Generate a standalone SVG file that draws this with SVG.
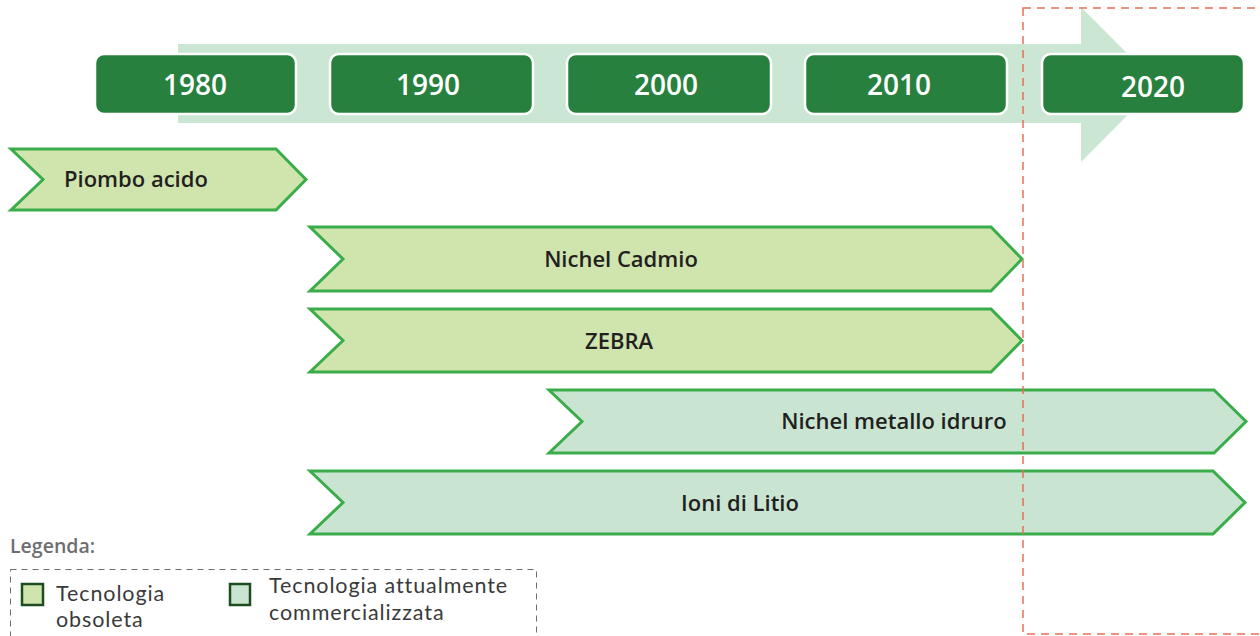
<svg xmlns="http://www.w3.org/2000/svg" width="1260" height="636" viewBox="0 0 1260 636">
<style>
.yr{fill:#28803e;stroke:#ffffff;stroke-width:2.5}
.yt{font-family:"Open Sans",Lato,sans-serif;font-weight:600;font-size:28px;fill:#ffffff;text-anchor:middle}
.obs{fill:#d0e4ae;stroke:#3aad4a;stroke-width:3;stroke-linejoin:miter}
.cur{fill:#c9e5d2;stroke:#3aad4a;stroke-width:3;stroke-linejoin:miter}
.lb{font-family:"Open Sans",Lato,sans-serif;font-weight:600;font-size:22px;fill:#231f20}
.lg{font-family:Lato,"Open Sans",sans-serif;font-size:21.5px;letter-spacing:0.9px;fill:#3a3a3a}
</style>
<g id="timeline-arrow">
<polygon points="178,44 1081,44 1081,7 1158,84.5 1081,162 1081,123 178,123" fill="#cbe6d3"/>
</g>
<g id="y1980"><rect class="yr" x="95" y="54" width="201" height="60" rx="9"/><text class="yt" x="195" y="95">1980</text></g>
<g id="y1990"><rect class="yr" x="330" y="54" width="203" height="60" rx="9"/><text class="yt" x="428" y="95">1990</text></g>
<g id="y2000"><rect class="yr" x="567" y="54" width="204" height="60" rx="9"/><text class="yt" x="666" y="95">2000</text></g>
<g id="y2010"><rect class="yr" x="805" y="54" width="202" height="60" rx="9"/><text class="yt" x="899" y="95">2010</text></g>
<g id="y2020"><rect class="yr" x="1042" y="54" width="202" height="60" rx="9"/><text class="yt" x="1153" y="97">2020</text></g>
<g id="piombo"><polygon class="obs" points="11,149 276,149 306,179.5 276,210 11,210 43,179.5"/><text class="lb" x="64" y="187">Piombo acido</text></g>
<g id="nicd"><polygon class="obs" points="310,227 991,227 1022,259 991,291 310,291 343,259"/><text class="lb" x="621" y="267" text-anchor="middle">Nichel Cadmio</text></g>
<g id="zebra"><polygon class="obs" points="310,309 991,309 1022,340.5 991,372 310,372 343,340.5"/><text class="lb" x="619" y="349" text-anchor="middle">ZEBRA</text></g>
<g id="nimh"><polygon class="cur" points="549,390 1214,390 1246,421.5 1214,453 549,453 582,421.5"/><text class="lb" x="894" y="429" text-anchor="middle">Nichel metallo idruro</text></g>
<g id="liion"><polygon class="cur" points="310,471 1213,471 1245,502.5 1213,534 310,534 343,502.5"/><text class="lb" x="740" y="511" text-anchor="middle">Ioni di Litio</text></g>
<g id="highlight"><rect x="1023" y="8" width="260" height="626" fill="none" stroke="#e8705a" stroke-width="1.5" stroke-dasharray="8,6"/></g>
<g id="legend">
<text x="10" y="553" font-family="'Open Sans',Lato,sans-serif" font-weight="600" font-size="19.5" fill="#6d6e70">Legenda:</text>
<rect x="10.5" y="569.5" width="526" height="80" fill="none" stroke="#6d6e70" stroke-width="1" stroke-dasharray="6,5"/>
<rect x="22" y="584" width="21" height="21" fill="#d0e4ae" stroke="#1e4d22" stroke-width="2.5"/>
<text class="lg" x="56" y="601">Tecnologia</text>
<text class="lg" x="56" y="627">obsoleta</text>
<rect x="230" y="584" width="20" height="21" fill="#c9e5d2" stroke="#1e4d22" stroke-width="2.5"/>
<text class="lg" x="269" y="593">Tecnologia attualmente</text>
<text class="lg" x="269" y="620">commercializzata</text>
</g>
</svg>
